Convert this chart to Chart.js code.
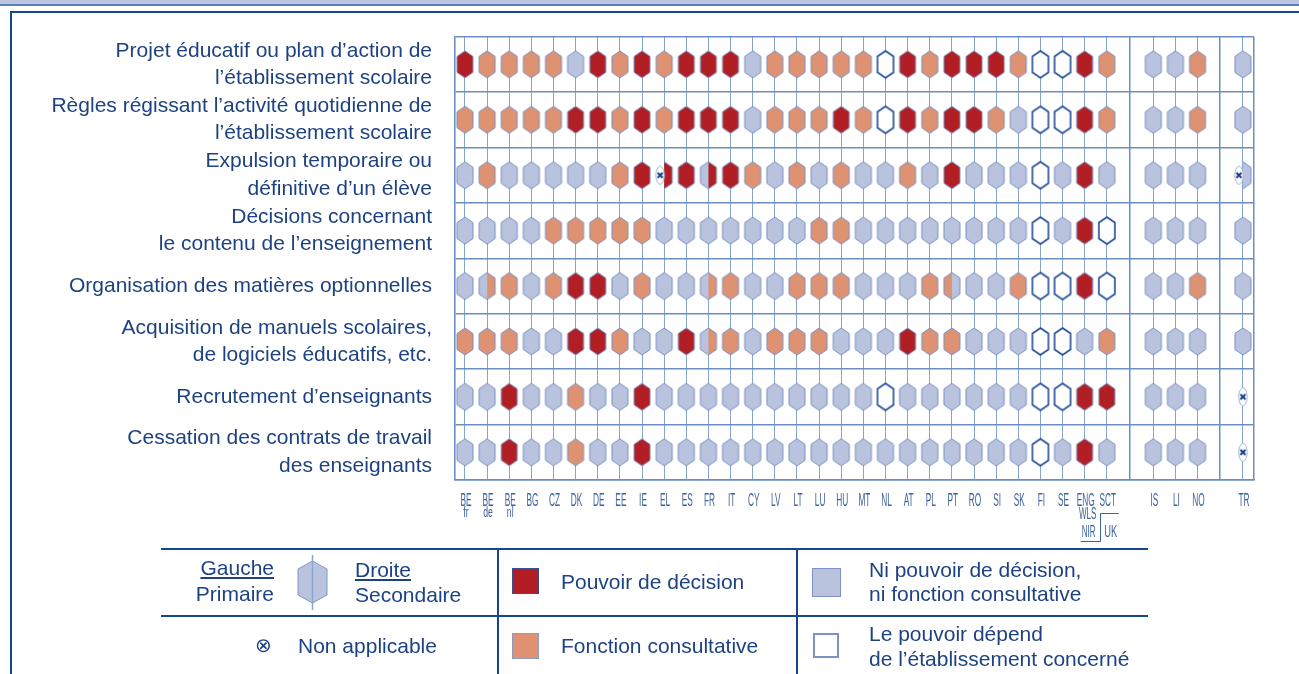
<!DOCTYPE html>
<html>
<head>
<meta charset="utf-8">
<script src="https://cdn.jsdelivr.net/npm/chart.js@4.4.1/dist/chart.umd.min.js"></script>
<style>
html,body{margin:0;padding:0;background:#fff;}
#wrap{position:relative;width:1299px;height:674px;overflow:hidden;font-family:'Liberation Sans',Arial,sans-serif;color:#1d4282;}
#band{position:absolute;left:0;top:0;width:1299px;height:4px;background:#bcc5df;border-bottom:2px solid #5a7db3;}
#c{position:absolute;left:0;top:0;}
.ln{position:absolute;background:#16478a;}
.t{position:absolute;font-size:21px;line-height:24px;white-space:nowrap;}
.u{text-decoration:underline;text-decoration-thickness:1.5px;text-underline-offset:2px;}
.sq{position:absolute;box-sizing:border-box;}
</style>
</head>
<body>
<div id="wrap">
  <div id="band"></div>
  <div class="ln" style="left:10px;top:11px;width:1289px;height:2px"></div>
  <div class="ln" style="left:10px;top:11px;width:2px;height:663px"></div>
  <canvas id="c" width="1299" height="674"></canvas>

  <!-- legend table -->
  <div class="ln" style="left:161px;top:548px;width:987px;height:2px"></div>
  <div class="ln" style="left:161px;top:615px;width:987px;height:2px"></div>
  <div class="ln" style="left:497px;top:548px;width:2px;height:126px"></div>
  <div class="ln" style="left:796px;top:548px;width:2px;height:126px"></div>

  <div class="t u" style="left:150px;width:124px;text-align:right;top:556px">Gauche</div>
  <div class="t" style="left:150px;width:124px;text-align:right;top:582px">Primaire</div>
  <svg style="position:absolute;left:290px;top:552px" width="45" height="62">
    <polygon points="22.5,9 37,17 37,43 22.5,51 8,43 8,17" fill="#b9c3de" stroke="#7f97c6" stroke-width="1"/>
    <line x1="22.5" y1="3" x2="22.5" y2="58" stroke="#8aa6cf" stroke-width="1.5"/>
  </svg>
  <div class="t u" style="left:355px;top:558px">Droite</div>
  <div class="t" style="left:355px;top:583px">Secondaire</div>
  <div class="t" style="left:255px;top:633px;font-family:'DejaVu Sans',sans-serif;font-size:20px">⊗</div>
  <div class="t" style="left:298px;top:634px">Non applicable</div>

  <div class="sq" style="left:512px;top:568px;width:27px;height:26px;background:#b11f24;border:1px solid #3a4f8f"></div>
  <div class="t" style="left:561px;top:570px">Pouvoir de décision</div>
  <div class="sq" style="left:512px;top:633px;width:27px;height:26px;background:#df9272;border:1px solid #8d9cc0"></div>
  <div class="t" style="left:561px;top:634px">Fonction consultative</div>

  <div class="sq" style="left:812px;top:568px;width:29px;height:29px;background:#b9c3de;border:1px solid #7b93c4"></div>
  <div class="t" style="left:869px;top:558px">Ni pouvoir de décision,</div>
  <div class="t" style="left:869px;top:582px">ni fonction consultative</div>
  <div class="sq" style="left:813px;top:633px;width:26px;height:25px;background:#fff;border:2px solid #7b93c4"></div>
  <div class="t" style="left:869px;top:622px">Le pouvoir dépend</div>
  <div class="t" style="left:869px;top:647px">de l’établissement concerné</div>
</div>

<script>
// ---------- DATA ----------
const countryCodes = ['BE','BE','BE','BG','CZ','DK','DE','EE','IE','EL','ES','FR','IT','CY','LV','LT','LU','HU','MT','NL','AT','PL','PT','RO','SI','SK','FI','SE','ENG','SCT','IS','LI','NO','TR'];
const countrySubs  = ['fr','de','nl','','','','','','','','','','','','','','','','','','','','','','','','','','','','','','',''];
const engSubs = ['WLS','NIR'];
const ukLabel = 'UK';

const rowLabels = [
  ['Projet éducatif ou plan d’action de', 'l’établissement scolaire'],
  ['Règles régissant l’activité quotidienne de', 'l’établissement scolaire'],
  ['Expulsion temporaire ou', 'définitive d’un élève'],
  ['Décisions concernant', 'le contenu de l’enseignement'],
  'Organisation des matières optionnelles',
  ['Acquisition de manuels scolaires,', 'de logiciels éducatifs, etc.'],
  'Recrutement d’enseignants',
  ['Cessation des contrats de travail', 'des enseignants']
];

// Codes: first letter = primaire (gauche), second = secondaire (droite)
// D = pouvoir de décision, C = fonction consultative, N = ni l'un ni l'autre,
// A = dépend de l'établissement, X = non applicable
const projetEducatif = ['DD','CC','CC','CC','CC','NN','DD','CC','DD','CC','DD','DD','DD','NN','CC','CC','CC','CC','CC','AA','DD','CC','DD','DD','DD','CC','AA','AA','DD','CC','NN','NN','CC','NN'];
const reglesQuotid   = ['CC','CC','CC','CC','CC','DD','DD','CC','DD','CC','DD','DD','DD','NN','CC','CC','CC','DD','CC','AA','DD','CC','DD','DD','CC','NN','AA','AA','DD','CC','NN','NN','CC','NN'];
const expulsion      = ['NN','CC','NN','NN','NN','NN','NN','CC','DD','XD','DD','ND','DD','CC','NN','CC','NN','CC','NN','NN','CC','NN','DD','NN','NN','NN','AA','NN','DD','NN','NN','NN','NN','XN'];
const contenuEns     = ['NN','NN','NN','NN','CC','CC','CC','CC','CC','NN','NN','NN','NN','NN','NN','NN','CC','CC','NN','NN','NN','NN','NN','NN','NN','NN','AA','NN','DD','AA','NN','NN','NN','NN'];
const matieresOpt    = ['NN','NC','CC','NN','CC','DD','DD','NN','CC','NN','NN','NC','CC','NN','NN','CC','CC','CC','NN','NN','NN','CC','CN','NN','NN','CC','AA','AA','DD','AA','NN','NN','CC','NN'];
const manuels        = ['CC','CC','CC','NN','NN','DD','DD','CC','NN','NN','DD','NC','CC','NN','CC','CC','CC','NN','NN','NN','DD','CC','CC','NN','NN','NN','AA','AA','NN','CC','NN','NN','NN','NN'];
const recrutement    = ['NN','NN','DD','NN','NN','CC','NN','NN','DD','NN','NN','NN','NN','NN','NN','NN','NN','NN','NN','AA','NN','NN','NN','NN','NN','NN','AA','AA','DD','DD','NN','NN','NN','XX'];
const cessation      = ['NN','NN','DD','NN','NN','CC','NN','NN','DD','NN','NN','NN','NN','NN','NN','NN','NN','NN','NN','NN','NN','NN','NN','NN','NN','NN','AA','NN','DD','NN','NN','NN','NN','XX'];

const rows = [projetEducatif, reglesQuotid, expulsion, contenuEns, matieresOpt, manuels, recrutement, cessation];

// ---------- LAYOUT HELPERS ----------
function colX(i) { return i + (i >= 30 ? 1.1 : 0) + (i >= 33 ? 1.05 : 0); }
const sepValues = [30.05, 34.125];
const X_MIN = -0.45, X_MAX = 35.65;
const xGridValues = countryCodes.map((c, i) => colX(i)).concat(sepValues, [X_MAX]);
const yTickValues = [];
for (let k = 0; k <= 16; k++) yTickValues.push(k * 0.5 - 0.5);

const FILL = {D:'#b11f24', C:'#df9272', N:'#b9c3de', A:'#ffffff'};
const cache = {};
function drawNA(g, x, y) {
  g.beginPath(); g.ellipse(x, y, 4.2, 9, 0, 0, Math.PI * 2);
  g.fillStyle = '#fff'; g.fill();
  g.strokeStyle = '#9fb3d8'; g.lineWidth = 1; g.stroke();
  g.beginPath();
  g.moveTo(x - 2.5, y - 2.5); g.lineTo(x + 2.5, y + 2.5);
  g.moveTo(x + 2.5, y - 2.5); g.lineTo(x - 2.5, y + 2.5);
  g.strokeStyle = '#1b3d85'; g.lineWidth = 2; g.stroke();
}
function hexImage(code) {
  if (cache[code]) return cache[code];
  const W = 16, H = 27, S = 5.5, P = 2;
  const cv = document.createElement('canvas');
  cv.width = W + 2 * P; cv.height = H + 2 * P;
  const g = cv.getContext('2d');
  const cx = cv.width / 2, t = P, b = P + H, l = cx - W / 2, r = cx + W / 2;
  const L = code[0], R = code[1];
  const rightPath = () => { g.beginPath(); g.moveTo(cx, t); g.lineTo(r, t + S); g.lineTo(r, b - S); g.lineTo(cx, b); g.closePath(); };
  const fullPath = () => { g.beginPath(); g.moveTo(cx, t); g.lineTo(r, t + S); g.lineTo(r, b - S); g.lineTo(cx, b); g.lineTo(l, b - S); g.lineTo(l, t + S); g.closePath(); };
  if (L !== 'X') {
    fullPath(); g.fillStyle = FILL[L]; g.fill();
    if (R !== L) { rightPath(); g.fillStyle = FILL[R]; g.fill(); }
    fullPath();
    if (L === 'A') { g.strokeStyle = '#1f4c98'; g.lineWidth = 1.6; }
    else { g.strokeStyle = '#7891c2'; g.lineWidth = 1; }
    g.stroke();
  } else if (R !== 'X') {
    rightPath(); g.fillStyle = FILL[R]; g.fill();
    g.beginPath(); g.moveTo(cx, t); g.lineTo(r, t + S); g.lineTo(r, b - S); g.lineTo(cx, b);
    g.strokeStyle = '#7891c2'; g.lineWidth = 1; g.stroke();
    drawNA(g, cx - 4, (t + b) / 2);
  } else {
    drawNA(g, cx, (t + b) / 2);
  }
  cache[code] = cv;
  return cv;
}

const points = [], styles = [];
rows.forEach((row, r) => row.forEach((code, i) => {
  points.push({x: colX(i), y: r});
  styles.push(hexImage(code));
}));

function narrowText(ctx, text, x, y, size, sx) {
  ctx.save();
  ctx.font = size + 'px "Liberation Sans", Arial, sans-serif';
  ctx.translate(x, y);
  ctx.scale(sx, 1);
  ctx.fillText(text, 0, 0);
  ctx.restore();
}

const xLabelPlugin = {
  id: 'xLabels',
  afterDraw(chart) {
    const {ctx, chartArea} = chart;
    const xs = chart.scales.x;
    const y0 = chartArea.bottom;
    ctx.save();
    ctx.fillStyle = '#3d62a0';
    ctx.strokeStyle = '#3d62a0';
    ctx.textAlign = 'center';
    ctx.textBaseline = 'alphabetic';
    countryCodes.forEach((code, i) => {
      const px = xs.getPixelForValue(colX(i)) + 1;
      narrowText(ctx, code, px, y0 + 26, 18, 0.46);
      if (countrySubs[i]) narrowText(ctx, countrySubs[i], px, y0 + 37, 14, 0.62);
    });
    const engX = xs.getPixelForValue(colX(28));
    const sctX = xs.getPixelForValue(colX(29));
    narrowText(ctx, engSubs[0], engX + 3, y0 + 39, 16, 0.5);
    narrowText(ctx, engSubs[1], engX + 4, y0 + 57, 16, 0.5);
    narrowText(ctx, ukLabel, sctX + 4, y0 + 57, 17, 0.55);
    const vx = Math.round((engX + sctX) / 2 + 4) + 0.5;
    ctx.lineWidth = 1;
    ctx.beginPath();
    ctx.moveTo(engX - 4, y0 + 61.5);
    ctx.lineTo(vx, y0 + 61.5);
    ctx.lineTo(vx, y0 + 33.5);
    ctx.lineTo(sctX + 12, y0 + 33.5);
    ctx.stroke();
    ctx.restore();
  }
};

Chart.defaults.font.family = "'Liberation Sans', Arial, sans-serif";

new Chart(document.getElementById('c'), {
  type: 'scatter',
  data: {
    datasets: [{
      data: points,
      pointStyle: styles,
      pointRadius: 8,
      pointHoverRadius: 8
    }]
  },
  options: {
    responsive: false,
    animation: false,
    events: [],
    layout: { padding: { left: 0, top: 23, right: 45, bottom: 134 } },
    plugins: { legend: { display: false }, tooltip: { enabled: false } },
    scales: {
      x: {
        type: 'linear', min: X_MIN, max: X_MAX,
        afterBuildTicks: s => { s.ticks = xGridValues.map(v => ({value: v})); },
        afterFit: s => { s.height = 60; },
        ticks: { display: false },
        grid: {
          drawTicks: false,
          color: c => (sepValues.includes(c.tick.value) || c.tick.value === X_MAX) ? '#6a8fc0' : '#86a5cf',
          lineWidth: c => (sepValues.includes(c.tick.value) || c.tick.value === X_MAX) ? 1.5 : 1
        },
        border: { display: true, color: '#6a8fc0', width: 1.6 }
      },
      y: {
        type: 'linear', reverse: true, min: -0.5, max: 7.5,
        afterBuildTicks: s => { s.ticks = yTickValues.map(v => ({value: v})); },
        afterFit: s => { s.width = 455; },
        ticks: {
          autoSkip: false,
          padding: 23,
          color: '#1d4282',
          font: { size: 21, lineHeight: 1.3 },
          callback: v => Number.isInteger(v) ? rowLabels[v] : ''
        },
        grid: {
          drawTicks: false,
          color: c => Number.isInteger(c.tick.value) ? 'rgba(0,0,0,0)' : '#6a8fc0',
          lineWidth: 1.6
        },
        border: { display: true, color: '#6a8fc0', width: 1.6 }
      }
    }
  },
  plugins: [xLabelPlugin]
});
</script>
</body>
</html>
